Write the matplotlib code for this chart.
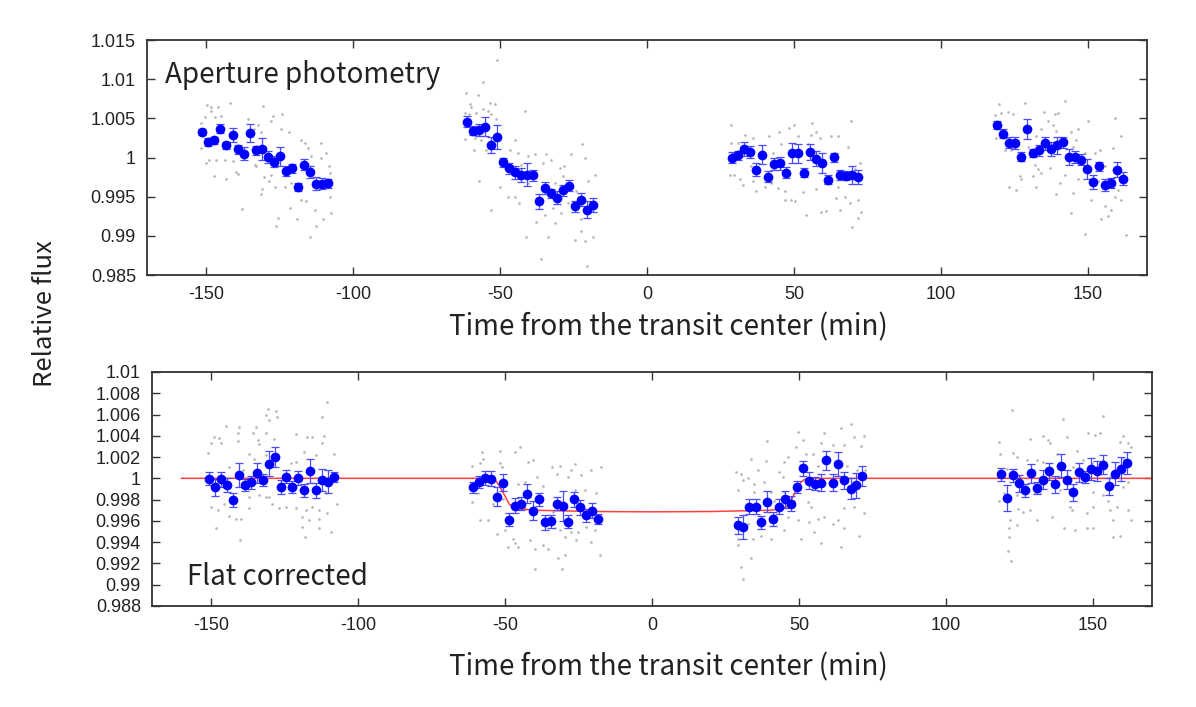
import matplotlib
matplotlib.use('Agg')
import matplotlib.pyplot as plt
from matplotlib.ticker import FuncFormatter, MultipleLocator

plt.rcParams['axes.unicode_minus'] = False

# ---- binned points, aperture photometry (top) ----
t_top = [
    [-151.3, -149.2, -147.2, -145.1, -143.1, -140.9, -139.0, -137.0, -134.9, -132.9, -130.9,
     -128.8, -126.8, -124.7, -122.7, -120.6, -118.6, -116.7, -114.6, -112.6, -110.5, -108.5],
    [-61.1, -59.1, -57.0, -55.0, -53.0, -50.9, -48.9, -46.8, -44.8, -42.8, -40.7,
     -38.7, -36.6, -34.6, -32.6, -30.6, -28.6, -26.5, -24.6, -22.6, -20.5, -18.5],
    [29.0, 31.1, 33.1, 35.1, 37.1, 39.1, 41.2, 43.2, 45.2, 47.3, 49.3,
     51.4, 53.4, 55.4, 57.4, 59.4, 61.5, 63.5, 65.5, 67.6, 69.6, 71.7],
    [119.0, 121.1, 123.1, 125.2, 127.2, 129.3, 131.3, 133.3, 135.4, 137.4, 139.5,
     141.5, 143.5, 145.6, 147.6, 149.7, 151.6, 153.6, 155.7, 157.7, 159.8, 161.8],
]
f_top = [
    [1.00324, 1.00196, 1.00218, 1.00368, 1.00154, 1.00291, 1.00103, 1.00051, 1.00312, 1.00090, 1.00103,
     1.00004, 0.99949, 1.00017, 0.99829, 0.99863, 0.99628, 0.99906, 0.99817, 0.99667, 0.99667, 0.99671],
    [1.00458, 1.00342, 1.00350, 1.00394, 1.00163, 1.00260, 0.99940, 0.99863, 0.99812, 0.99773, 0.99782,
     0.99773, 0.99440, 0.99612, 0.99542, 0.99487, 0.99581, 0.99641, 0.99376, 0.99462, 0.99333, 0.99397],
    [0.99996, 1.00026, 1.00112, 1.00068, 0.99846, 1.00035, 0.99753, 0.99919, 0.99927, 0.99808, 1.00055,
     1.00055, 0.99808, 1.00068, 0.99987, 0.99927, 0.99718, 1.00004, 0.99778, 0.99769, 0.99778, 0.99747],
    [1.00410, 1.00304, 1.00188, 1.00183, 1.00013, 1.00363, 1.00055, 1.00094, 1.00179, 1.00112, 1.00158,
     1.00192, 1.00009, 1.00009, 0.99974, 0.99855, 0.99688, 0.99888, 0.99650, 0.99676, 0.99846, 0.99731],
]
e_top = [
    [0.0004, 0.0005, 0.0005, 0.0006, 0.0005, 0.0009, 0.0006, 0.0008, 0.0011, 0.0006, 0.0014,
     0.0008, 0.0007, 0.0012, 0.0006, 0.0006, 0.0005, 0.0007, 0.0008, 0.0008, 0.0007, 0.0006],
    [0.0007, 0.0006, 0.0008, 0.0012, 0.0010, 0.0015, 0.0006, 0.0007, 0.0008, 0.0009, 0.0015,
     0.0007, 0.0010, 0.0008, 0.0006, 0.0008, 0.0007, 0.0007, 0.0007, 0.0008, 0.0011, 0.0009],
    [0.0007, 0.0006, 0.0009, 0.0008, 0.0008, 0.0012, 0.0007, 0.0008, 0.0008, 0.0007, 0.0013,
     0.0012, 0.0006, 0.0010, 0.0010, 0.0013, 0.0006, 0.0006, 0.0006, 0.0006, 0.0012, 0.0009],
    [0.0005, 0.0006, 0.0007, 0.0008, 0.0006, 0.0013, 0.0005, 0.0007, 0.0008, 0.0009, 0.0011,
     0.0007, 0.0010, 0.0008, 0.0007, 0.0013, 0.0009, 0.0006, 0.0008, 0.0006, 0.0010, 0.0008],
]

# ---- binned points, flat corrected (bottom) ----
t_bot = [
    [-150.6, -148.6, -146.5, -144.5, -142.5, -140.4, -138.4, -136.4, -134.3, -132.3, -130.3,
     -128.2, -126.2, -124.3, -122.3, -120.2, -118.2, -116.2, -114.1, -112.1, -110.1, -108.0],
    [-60.8, -58.7, -56.7, -54.7, -52.6, -50.6, -48.7, -46.7, -44.6, -42.6, -40.6,
     -38.5, -36.5, -34.5, -32.4, -30.4, -28.4, -26.4, -24.4, -22.4, -20.3, -18.3],
    [29.1, 31.1, 33.1, 35.2, 37.1, 39.1, 41.1, 43.2, 45.2, 47.2, 49.3,
     51.3, 53.3, 55.4, 57.4, 59.3, 61.4, 63.4, 65.4, 67.5, 69.5, 71.5],
    [118.6, 120.8, 122.8, 124.8, 126.9, 128.9, 130.9, 133.0, 135.0, 137.1, 139.0,
     141.0, 143.1, 145.1, 147.1, 149.2, 151.2, 153.2, 155.3, 157.3, 159.3, 161.4],
]
f_bot = [
    [0.99997, 0.99918, 0.99991, 0.99937, 0.99796, 1.00031, 0.99937, 0.99962, 1.00050, 0.99984, 1.00138,
     1.00200, 0.99918, 1.00016, 0.99918, 1.00003, 0.99887, 1.00069, 0.99887, 0.99984, 0.99969, 1.00012],
    [0.99915, 0.99965, 1.00003, 0.99997, 0.99828, 0.99960, 0.99612, 0.99744, 0.99762, 0.99856, 0.99697,
     0.99803, 0.99587, 0.99596, 0.99762, 0.99737, 0.99593, 0.99803, 0.99728, 0.99653, 0.99697, 0.99618],
    [0.99559, 0.99543, 0.99734, 0.99734, 0.99587, 0.99781, 0.99618, 0.99734, 0.99803, 0.99762, 0.99918,
     1.00094, 0.99978, 0.99950, 0.99960, 1.00169, 0.99960, 1.00134, 0.99981, 0.99903, 0.99934, 1.00022],
    [1.00038, 0.99815, 1.00028, 0.99953, 0.99887, 1.00047, 0.99909, 0.99988, 1.00066, 0.99944, 1.00119,
     0.99988, 0.99869, 1.00056, 1.00012, 1.00087, 1.00069, 1.00129, 0.99925, 1.00044, 1.00087, 1.00144],
]
e_bot = [
    [0.0006, 0.0008, 0.0007, 0.0007, 0.0007, 0.0011, 0.0006, 0.0006, 0.0009, 0.0006, 0.0012,
     0.0009, 0.0007, 0.0006, 0.0006, 0.0007, 0.0006, 0.0011, 0.0007, 0.0010, 0.0011, 0.0005],
    [0.0005, 0.0006, 0.0007, 0.0007, 0.0009, 0.0008, 0.0006, 0.0007, 0.0006, 0.0009, 0.0009,
     0.0006, 0.0007, 0.0006, 0.0006, 0.0014, 0.0006, 0.0007, 0.0007, 0.0006, 0.0007, 0.0005],
    [0.0008, 0.0011, 0.0007, 0.0007, 0.0006, 0.0010, 0.0007, 0.0007, 0.0008, 0.0007, 0.0006,
     0.0007, 0.0008, 0.0006, 0.0008, 0.0009, 0.0008, 0.0011, 0.0008, 0.0010, 0.0012, 0.0009],
    [0.0006, 0.0012, 0.0006, 0.0008, 0.0006, 0.0009, 0.0006, 0.0009, 0.0008, 0.0008, 0.0011,
     0.0009, 0.0008, 0.0009, 0.0006, 0.0010, 0.0009, 0.0009, 0.0008, 0.0011, 0.0011, 0.0010],
]

# ---- unbinned frames (grey), (time, flux) ----
raw_top = [
    [(-149.6, 1.0067), (-148.1, 1.0064), (-145.9, 1.0064), (-141.7, 1.0070), (-150.4, 1.0052),
     (-148.4, 1.0059), (-146.8, 1.0052), (-144.8, 1.0053), (-151.6, 1.0044), (-151.0, 1.0027),
     (-151.8, 1.0012), (-149.9, 0.9993), (-149.0, 0.9997), (-146.7, 0.9997), (-147.2, 0.9976),
     (-143.1, 0.9972), (-143.6, 0.9997), (-140.8, 0.9995), (-139.7, 0.9982), (-139.1, 0.9979),
     (-137.7, 0.9934), (-135.8, 1.0049), (-133.5, 1.0036), (-132.2, 1.0041), (-131.3, 1.0032),
     (-130.4, 1.0066), (-127.9, 1.0047), (-127.2, 1.0053), (-124.1, 1.0055), (-124.5, 1.0036),
     (-121.6, 1.0032), (-132.9, 0.9989), (-133.2, 0.9991), (-130.1, 0.9975), (-128.5, 0.9970),
     (-130.8, 0.9960), (-131.3, 0.9953), (-127.9, 0.9978), (-126.6, 0.9963), (-125.5, 0.9923),
     (-126.1, 0.9912), (-123.2, 0.9963), (-120.9, 0.9968), (-121.3, 0.9936), (-119.8, 0.9960),
     (-119.1, 0.9922), (-117.6, 1.0023), (-116.4, 1.0019), (-115.3, 1.0012), (-114.7, 0.9899),
     (-115.9, 0.9944), (-114.2, 1.0002), (-113.0, 0.9933), (-112.5, 0.9912), (-110.8, 1.0019),
     (-109.1, 1.0006), (-111.0, 1.0000), (-107.9, 0.9980), (-107.9, 0.9950), (-107.4, 0.9929),
     (-110.2, 0.9922), (-108.2, 0.9989), (-117.6, 0.9946)],
    [(-51.0, 1.0125), (-55.6, 1.0097), (-61.4, 1.0082), (-57.5, 1.0080), (-60.3, 1.0068),
     (-59.7, 1.0065), (-53.5, 1.0069), (-54.1, 1.0060), (-51.8, 1.0068), (-62.0, 1.0057),
     (-60.6, 1.0056), (-58.1, 1.0057), (-55.8, 1.0062), (-53.0, 1.0055), (-51.5, 1.0049),
     (-62.0, 1.0024), (-58.6, 1.0025), (-56.4, 1.0023), (-58.8, 1.0010), (-54.7, 1.0010),
     (-57.1, 0.9970), (-53.0, 0.9933), (-50.1, 0.9963), (-47.3, 0.9950), (-44.8, 0.9950),
     (-46.7, 1.0010), (-45.0, 1.0022), (-41.6, 1.0060), (-43.9, 1.0006), (-40.5, 1.0002),
     (-42.8, 0.9991), (-40.5, 0.9968), (-43.6, 0.9942), (-38.2, 1.0004), (-35.4, 0.9993),
     (-34.3, 1.0004), (-32.6, 0.9997), (-41.0, 0.9899), (-37.7, 0.9918), (-36.0, 0.9871),
     (-29.7, 0.9987), (-28.2, 0.9989), (-31.4, 0.9968), (-29.1, 0.9929), (-32.0, 0.9936),
     (-33.7, 0.9899), (-25.7, 1.0004), (-22.0, 1.0017), (-21.2, 1.0000), (-17.8, 0.9978),
     (-24.0, 0.9957), (-20.1, 0.9970), (-26.9, 0.9942), (-24.6, 0.9895), (-21.2, 0.9893),
     (-22.3, 0.9906), (-20.3, 0.9862), (-18.4, 0.9899), (-28.6, 0.9976), (-22.3, 0.9921),
     (-31.4, 0.9916), (-34.8, 0.9927)],
    [(28.7, 1.0042), (33.2, 1.0029), (36.1, 1.0025), (41.4, 1.0027), (44.9, 1.0032),
     (48.2, 1.0038), (50.0, 1.0041), (56.2, 1.0044), (51.4, 1.0027), (55.9, 1.0029),
     (57.6, 1.0032), (58.7, 1.0025), (62.7, 1.0028), (65.0, 1.0027), (69.5, 1.0047),
     (28.7, 1.0019), (31.0, 1.0019), (28.1, 0.9978), (29.6, 0.9978), (31.5, 0.9972),
     (32.7, 0.9965), (36.1, 0.9970), (37.2, 0.9957), (40.0, 0.9963), (42.1, 0.9968),
     (44.6, 0.9961), (46.8, 0.9957), (49.1, 0.9946), (47.0, 0.9946), (50.2, 0.9944),
     (54.2, 0.9927), (53.1, 0.9956), (57.6, 0.9960), (59.1, 0.9931), (61.0, 0.9932),
     (65.0, 0.9963), (64.4, 0.9948), (65.5, 0.9933), (67.2, 0.9950), (68.9, 0.9942),
     (71.8, 0.9946), (72.9, 0.9930), (71.8, 0.9923), (69.7, 0.9911), (72.3, 0.9993),
     (70.6, 0.9985), (42.9, 1.0006), (39.5, 1.0008), (45.7, 1.0017), (54.8, 1.0017),
     (29.3, 1.0006), (63.8, 1.0006), (68.4, 1.0014), (35.5, 0.9989), (60.4, 0.9968)],
    [(119.7, 1.0068), (128.5, 1.0069), (142.1, 1.0072), (118.3, 1.0054), (120.5, 1.0057),
     (122.8, 1.0058), (124.5, 1.0055), (135.0, 1.0058), (138.7, 1.0055), (139.8, 1.0057),
     (136.4, 1.0047), (138.1, 1.0041), (118.8, 1.0025), (122.8, 1.0023), (121.7, 1.0010),
     (123.9, 1.0010), (129.6, 1.0014), (132.4, 1.0027), (134.1, 1.0036), (139.2, 1.0034),
     (144.3, 1.0032), (146.0, 1.0023), (146.6, 1.0037), (150.0, 1.0047), (159.1, 1.0050),
     (161.3, 1.0027), (158.5, 1.0012), (154.0, 1.0010), (152.3, 1.0006), (148.9, 1.0006),
     (144.9, 1.0014), (131.9, 0.9991), (133.0, 0.9985), (131.3, 0.9976), (127.3, 0.9972),
     (126.8, 0.9976), (125.4, 0.9959), (123.0, 0.9962), (132.2, 0.9963), (134.1, 0.9980),
     (139.2, 0.9953), (140.4, 0.9968), (144.9, 0.9955), (142.1, 0.9978), (144.3, 0.9929),
     (148.9, 0.9903), (151.1, 0.9946), (155.7, 0.9938), (154.5, 0.9921), (157.9, 0.9933),
     (156.6, 0.9925), (159.1, 0.9950), (161.3, 0.9946), (163.0, 0.9901), (153.4, 0.9970),
     (146.6, 0.9972), (137.0, 0.9987), (155.7, 0.9989), (160.2, 0.9959)],
]
raw_bot = [
    [(-130.4, 1.0065), (-127.9, 1.0063), (-131.3, 1.0060), (-127.4, 1.0058), (-130.2, 1.0055),
     (-110.4, 1.0072), (-112.1, 1.0058), (-144.8, 1.0049), (-140.3, 1.0048), (-140.9, 1.0043),
     (-135.8, 1.0043), (-131.3, 1.0043), (-134.5, 1.0048), (-148.8, 1.0039), (-147.1, 1.0038),
     (-149.9, 1.0033), (-146.5, 1.0033), (-140.9, 1.0035), (-151.1, 1.0024), (-133.6, 1.0032),
     (-133.8, 1.0036), (-121.1, 1.0042), (-117.2, 1.0039), (-115.5, 1.0039), (-111.5, 1.0040),
     (-112.1, 1.0033), (-118.3, 1.0025), (-114.3, 1.0022), (-108.1, 1.0023), (-128.5, 1.0037),
     (-136.9, 1.0023), (-135.3, 1.0018), (-131.3, 1.0022), (-122.8, 1.0014), (-121.1, 1.0015),
     (-136.9, 0.9982), (-131.3, 0.9982), (-130.2, 0.9982), (-133.6, 0.9984), (-149.9, 0.9973),
     (-147.7, 0.9970), (-145.4, 0.9976), (-143.7, 0.9965), (-141.5, 0.9962), (-139.8, 0.9962),
     (-136.9, 0.9972), (-129.1, 0.9976), (-126.8, 0.9972), (-124.5, 0.9973), (-121.1, 0.9972),
     (-117.7, 0.9970), (-115.5, 0.9973), (-113.2, 0.9970), (-110.4, 0.9967), (-107.0, 0.9976),
     (-118.9, 0.9964), (-116.6, 0.9961), (-113.2, 0.9962), (-148.2, 0.9953), (-113.2, 0.9953),
     (-118.9, 0.9954), (-143.7, 1.0011), (-139.2, 1.0008), (-122.3, 0.9989), (-110.9, 0.9986),
     (-140.0, 0.9942), (-118.0, 0.9945), (-109.0, 0.9950)],
    [(-44.8, 1.0029), (-57.9, 1.0025), (-51.6, 1.0026), (-46.5, 1.0025), (-57.3, 1.0018),
     (-61.3, 1.0012), (-58.4, 1.0014), (-51.6, 1.0014), (-51.1, 1.0011), (-42.0, 1.0015),
     (-40.3, 1.0017), (-34.1, 1.0011), (-31.3, 1.0012), (-26.2, 1.0013), (-17.2, 1.0011),
     (-60.7, 0.9992), (-61.3, 0.9978), (-59.0, 0.9986), (-53.9, 0.9976), (-50.5, 0.9981),
     (-45.4, 0.9995), (-43.2, 0.9997), (-39.2, 1.0001), (-36.9, 0.9993), (-32.4, 1.0004),
     (-28.5, 1.0001), (-27.4, 1.0008), (-24.0, 1.0003), (-20.6, 1.0008), (-18.9, 0.9986),
     (-26.2, 0.9989), (-22.8, 0.9989), (-58.4, 0.9961), (-55.6, 0.9961), (-52.8, 0.9948),
     (-49.9, 0.9951), (-47.1, 0.9943), (-46.5, 0.9939), (-48.8, 0.9935), (-45.4, 0.9935),
     (-41.5, 0.9942), (-39.8, 0.9934), (-36.9, 0.9937), (-35.3, 0.9934), (-33.0, 0.9953),
     (-31.3, 0.9951), (-29.6, 0.9945), (-27.4, 0.9950), (-25.1, 0.9950), (-22.3, 0.9954),
     (-19.4, 0.9951), (-25.7, 0.9942), (-20.6, 0.9940), (-17.7, 0.9928), (-31.9, 0.9925),
     (-29.6, 0.9928), (-39.8, 0.9915), (-30.7, 0.9915), (-40.3, 0.9973), (-43.2, 0.9972),
     (-33.6, 0.9968)],
    [(67.6, 1.0051), (64.2, 1.0047), (72.1, 1.0040), (68.7, 1.0039), (58.5, 1.0043),
     (49.5, 1.0044), (51.2, 1.0036), (39.1, 1.0035), (57.4, 1.0033), (61.4, 1.0031),
     (65.3, 1.0031), (71.0, 1.0030), (48.9, 1.0029), (52.3, 1.0023), (54.6, 1.0023),
     (46.1, 1.0020), (33.7, 1.0018), (38.7, 1.0016), (45.0, 1.0015), (28.6, 1.0006),
     (30.3, 1.0004), (30.8, 0.9998), (35.9, 1.0008), (43.3, 1.0006), (32.5, 1.0000),
     (34.8, 0.9995), (38.2, 0.9997), (44.4, 1.0001), (56.3, 1.0012), (66.4, 1.0012),
     (69.8, 1.0008), (72.3, 1.0008), (29.2, 0.9989), (34.8, 0.9987), (40.4, 0.9987),
     (45.0, 0.9987), (49.5, 0.9990), (48.4, 0.9979), (52.9, 0.9978), (54.0, 0.9973),
     (46.1, 0.9964), (49.5, 0.9961), (53.5, 0.9959), (56.3, 0.9962), (58.5, 0.9964),
     (61.4, 0.9957), (63.1, 0.9961), (65.3, 0.9972), (68.7, 0.9973), (72.1, 0.9967),
     (55.2, 0.9950), (65.3, 0.9953), (70.4, 0.9946), (32.5, 0.9957), (34.2, 0.9943),
     (37.1, 0.9946), (40.4, 0.9943), (45.0, 0.9951), (50.6, 0.9943), (41.6, 0.9979),
     (29.2, 0.9943), (29.2, 0.9937), (64.2, 0.9935), (57.4, 0.9939), (30.3, 0.9917),
     (31.0, 0.9905), (33.5, 0.9925)],
    [(122.4, 1.0064), (139.7, 1.0056), (153.5, 1.0059), (117.9, 1.0034), (133.1, 1.0040),
     (141.0, 1.0039), (148.4, 1.0043), (150.6, 1.0041), (152.3, 1.0043), (160.2, 1.0040),
     (161.9, 1.0033), (159.1, 1.0034), (162.8, 1.0029), (118.4, 1.0023), (122.9, 1.0024),
     (128.6, 1.0037), (134.8, 1.0036), (135.4, 1.0033), (124.1, 1.0020), (127.5, 1.0017),
     (130.8, 1.0017), (137.6, 1.0023), (144.4, 1.0026), (146.7, 1.0017), (149.5, 1.0014),
     (153.5, 1.0017), (160.2, 1.0018), (120.7, 1.0009), (125.2, 1.0001), (133.1, 1.0015),
     (139.9, 1.0012), (143.3, 1.0011), (155.7, 1.0001), (161.9, 0.9997), (117.9, 0.9979),
     (124.1, 0.9984), (130.3, 0.9986), (132.0, 0.9986), (138.7, 0.9989), (150.1, 0.9987),
     (153.5, 0.9984), (160.2, 0.9992), (119.6, 0.9986), (124.6, 0.9971), (126.3, 0.9968),
     (128.6, 0.9970), (130.8, 0.9961), (135.9, 0.9964), (142.1, 0.9973), (142.7, 0.9970),
     (147.8, 0.9967), (150.1, 0.9973), (155.2, 0.9979), (155.7, 0.9970), (158.0, 0.9973),
     (161.9, 0.9970), (162.8, 0.9961), (156.8, 0.9961), (121.8, 0.9961), (121.3, 0.9953),
     (121.3, 0.9945), (124.1, 0.9956), (140.2, 0.9953), (143.8, 0.9951), (147.8, 0.9953),
     (150.1, 0.9953), (156.8, 0.9945), (159.1, 0.9946), (121.0, 0.9932), (122.0, 0.9922)],
]

# ---- transit model (red line, bottom) ----
t_model = [-160, -54.5, -53, -51.5, -50, -48.5, -47, -45, -40, -20, 0, 20, 40, 44,
           46, 47.5, 49, 50.5, 52, 53.5, 170]
f_model = [1.0, 1.0, 0.99975, 0.9991, 0.99835, 0.99755, 0.99725, 0.99712, 0.99700, 0.99688, 0.99685,
           0.99688, 0.99700, 0.99712, 0.99735, 0.99800, 0.99890, 0.99960, 0.99992, 1.0, 1.0]

LABEL_FONT = ['Noto Sans CJK JP', 'DejaVu Sans']
TICK_FONT = ['Liberation Sans', 'DejaVu Sans']
BLUE = '#0000ff'
GREY = '#b4b4b4'

fig = plt.figure(figsize=(11.96, 7.07), dpi=100)
ax1 = fig.add_axes([0.1229, 0.611, 0.8361, 0.3324])
ax2 = fig.add_axes([0.1271, 0.1429, 0.8361, 0.331])


def draw(ax, raw, ts, fs, es):
    for seg in raw:
        ax.plot([p[0] for p in seg], [p[1] for p in seg], 'o', color=GREY, ms=1.9, mew=0, zorder=1)
    for t, f, e in zip(ts, fs, es):
        ax.errorbar(t, f, yerr=e, fmt='none', ecolor='#4a4aff', elinewidth=0.9,
                    capsize=3.2, capthick=0.9, zorder=3)
        ax.plot(t, f, 'o', color=BLUE, ms=7.0, mew=0, zorder=4)


def style(ax, ylim, ystep, label_x, labelpad):
    ax.set_xlim(-170, 170)
    ax.set_ylim(*ylim)
    ax.xaxis.set_major_locator(MultipleLocator(50))
    ax.yaxis.set_major_locator(MultipleLocator(ystep))
    ax.yaxis.set_major_formatter(FuncFormatter(lambda v, p: '%g' % round(v, 4)))
    ax.tick_params(direction='in', length=6, width=1.0, color='#333333',
                   top=True, right=True, labelsize=13, labelcolor='#222222')
    ax.tick_params(axis='x', pad=8)
    ax.tick_params(axis='y', pad=8)
    for lab in ax.get_xticklabels() + ax.get_yticklabels():
        lab.set_family(TICK_FONT)
    for s in ax.spines.values():
        s.set_linewidth(1.3)
        s.set_color('#333333')
    ax.set_xlabel('Time from the transit center (min)', family=LABEL_FONT,
                  fontsize=20, color='#222222', labelpad=labelpad)
    ax.xaxis.label.set_x(label_x)


draw(ax1, raw_top, t_top, f_top, e_top)
style(ax1, (0.985, 1.015), 0.005, 0.521, 7)
ax1.text(0.018, 0.851, 'Aperture photometry', transform=ax1.transAxes, family=LABEL_FONT,
         fontsize=20, color='#222222', va='center', ha='left')

draw(ax2, raw_bot, t_bot, f_bot, e_bot)
ax2.plot(t_model, f_model, '-', color='#ff4040', lw=1.1, zorder=2)
style(ax2, (0.988, 1.01), 0.002, 0.516, 13)
ax2.text(0.035, 0.124, 'Flat corrected', transform=ax2.transAxes, family=LABEL_FONT,
         fontsize=20, color='#222222', va='center', ha='left')

fig.text(0.038, 0.556, 'Relative flux', rotation=90, family=LABEL_FONT, fontsize=18.5,
         color='#222222', ha='center', va='center')

fig.savefig('out.png', dpi=100)
